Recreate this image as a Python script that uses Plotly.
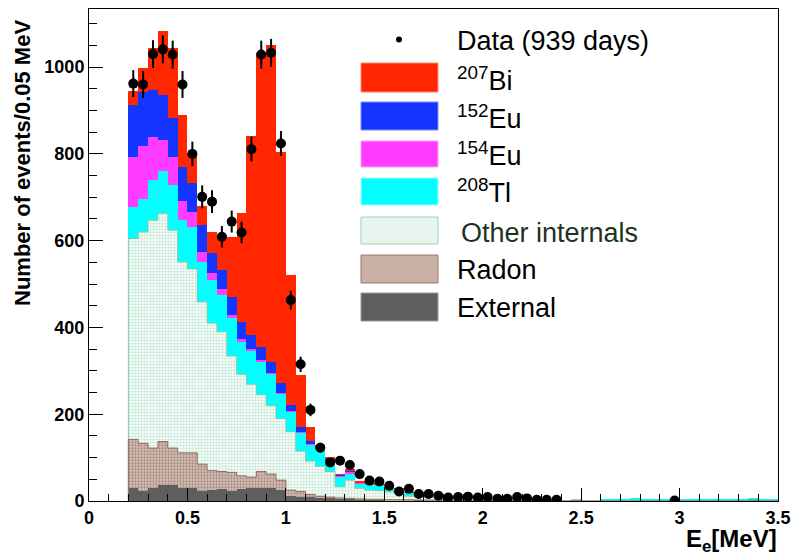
import numpy as np
import plotly.graph_objects as go

# ---------------- data (bins of 0.05 MeV from 0.2 to 3.5 MeV) ----------------
bin_low = 0.2
bin_width = 0.05

external = [30, 23, 31, 37, 37, 30, 29, 24, 26, 27, 23, 27, 30, 31, 30, 26, 12, 10, 9, 8, 7, 5,
            5, 4, 3, 3, 2, 2, 2, 2, 1, 1, 1, 1, 1, 1, 1, 0, 0, 0, 0, 0, 0, 0,
            0, 0, 0, 0, 0, 0, 0, 0, 0, 0, 0, 0, 0, 0, 0, 0, 0, 0, 0, 0, 0, 0]
radon = [112, 110, 91, 100, 85, 81, 82, 61, 44, 41, 43, 31, 25, 37, 32, 22, 13, 12, 6, 3, 2, 2,
         1, 1, 1, 1, 1, 1, 1, 0, 1, 1, 1, 0, 0, 0, 0, 1, 1, 1, 1, 1, 1, 1,
         0, 2, 0, 0, 0, 0, 0, 0, 0, 0, 0, 0, 0, 0, 0, 0, 0, 0, 0, 2, 0, 0]
other_internals = [463, 487, 525, 526, 502, 440, 424, 374, 340, 322, 268, 234, 214, 177, 158, 142, 135, 93, 77, 69, 59, 26,
                   42, 24, 21, 20, 18, 17, 8, 8, 6, 5, 4, 4, 4, 3, 3, 2, 2, 2, 1, 1, 1, 1,
                   0, 0, 0, 0, 0, 0, 0, 2, 0, 0, 0, 0, 0, 0, 0, 0, 0, 0, 0, 0, 0, 0]
tl208 = [72, 75, 93, 98, 104, 96, 96, 92, 99, 85, 87, 75, 77, 76, 73, 58, 46, 42, 39, 41, 27, 24,
         16, 12, 15, 14, 8, 8, 8, 8, 5, 5, 4, 4, 3, 3, 3, 3, 3, 2, 3, 2, 2, 1,
         0, 0, 0, 0, 4, 4, 4, 4, 4, 4, 4, 4, 4, 4, 4, 4, 4, 4, 4, 4, 4, 4]
eu154 = [115, 123, 98, 72, 65, 45, 36, 23, 16, 13, 8, 6, 4, 4, 2, 2, 1, 1, 1, 1, 1, 1,
         4, 1, 0, 1, 1, 0, 0, 0, 0, 0, 0, 0, 0, 0, 0, 0, 0, 0, 0, 0, 0, 0,
         0, 0, 0, 0, 0, 0, 0, 0, 0, 0, 0, 0, 0, 0, 0, 0, 0, 0, 0, 0, 0, 0]
eu152 = [120, 124, 109, 102, 89, 78, 65, 62, 46, 44, 42, 40, 32, 31, 26, 21, 14, 13, 7, 3, 2, 2,
         2, 1, 0, 0, 0, 0, 0, 0, 0, 0, 0, 0, 0, 0, 0, 0, 0, 0, 0, 0, 0, 0,
         0, 0, 0, 0, 0, 0, 0, 0, 0, 0, 0, 0, 0, 0, 0, 0, 0, 0, 0, 0, 0, 0]
bi207 = [33, 55, 96, 149, 163, 119, 69, 44, 49, 81, 137, 251, 459, 676, 730, 534, 299, 119, 32, 4, 2, 1,
         2, 1, 1, 1, 1, 1, 1, 1, 1, 1, 1, 1, 1, 1, 0, 1, 0, 1, 0, 1, 0, 1,
         0, 0, 0, 0, 0, 0, 0, 0, 0, 0, 0, 0, 0, 0, 0, 0, 0, 0, 0, 0, 0, 0]
data_counts = [962, 960, 1030, 1041, 1029, 960, 800, 701, 690, 609, 644, 619, 811, 1029, 1033, 824, 463, 315, 210, 123, 89, 93,
               83, 62, 47, 45, 35, 22, 28, 16, 16, 12, 8, 9, 10, 8, 9, 5, 5, 9, 6, 3, 3, 3,
               0, 0, 0, 0, 0, 0, 0, 0, 0, 0, 0, 1, 0, 0, 0, 0, 0, 0, 0, 0, 0, 0]

x_ticks = [0, 0.5, 1, 1.5, 2, 2.5, 3, 3.5]
x_tick_labels = ["0", "0.5", "1", "1.5", "2", "2.5", "3", "3.5"]
y_ticks = [0, 200, 400, 600, 800, 1000]
y_tick_labels = ["0", "200", "400", "600", "800", "1000"]

# ---------------- derived ----------------
n_bins = len(external)
edges = bin_low + bin_width * np.arange(n_bins + 1)
centers = edges[:-1] + bin_width / 2

# ---------------- figure ----------------
W, H = 794, 556
L, R, T, B = 89, 16, 9, 55
PW, PH = W - L - R, H - T - B


def px(x):
    return (x - L) / PW


def py(y):
    return (H - B - y) / PH


fig = go.Figure()

components = [
    ("External", external, dict(color="#5e5e5e")),
    ("Radon", radon, dict(color="#d2bcb1",
                          pattern=dict(shape=".", bgcolor="#d6c1b7", fgcolor="#7a5a4e",
                                       size=3, solidity=0.45, fillmode="overlay"))),
    ("Other internals", other_internals, dict(color="#f4fbf7",
                                              pattern=dict(shape=".", bgcolor="#f6fcf9", fgcolor="#86cbab",
                                                           size=3, solidity=0.4, fillmode="overlay"))),
    ("208Tl", tl208, dict(color="#00ffff")),
    ("154Eu", eu154, dict(color="#ff3cff")),
    ("152Eu", eu152, dict(color="#1434ff")),
    ("207Bi", bi207, dict(color="#ff2600")),
]
for name, vals, mk in components:
    mk = dict(mk)
    mk["line"] = dict(width=0)
    fig.add_trace(go.Bar(x=centers, y=vals, width=bin_width, name=name, marker=mk,
                         showlegend=False))

# outlines of the patterned histograms
cum_ext = np.array(external, float)
cum_rad = cum_ext + np.array(radon, float)
cum_oi = cum_rad + np.array(other_internals, float)
for top, col in [(cum_oi, "#86caa9"), (cum_rad, "#9a6a5a")]:
    xs = np.concatenate([[edges[0]], edges])
    ys = np.concatenate([[0.0], top, [top[-1]]])
    fig.add_trace(go.Scatter(x=xs, y=ys, mode="lines", line=dict(color=col, width=1, shape="hv"),
                             showlegend=False, hoverinfo="skip"))

# data points
dc = np.array(data_counts, float)
mask = dc > 0
fig.add_trace(go.Scatter(x=centers[mask], y=dc[mask], mode="markers",
                         marker=dict(color="black", size=10),
                         error_y=dict(type="data", array=np.sqrt(dc[mask]), color="black",
                                      thickness=2, width=0),
                         showlegend=False))

tickfont = dict(family="Liberation Sans, Arial", size=18, color="black", weight="bold")

fig.update_layout(
    width=W, height=H, margin=dict(l=L, r=R, t=T, b=B, autoexpand=False),
    paper_bgcolor="white", plot_bgcolor="white",
    barmode="stack", bargap=0,
    xaxis=dict(range=[0, 3.5], tickvals=x_ticks, ticktext=x_tick_labels, ticks="inside", ticklen=13,
               tickcolor="black", showline=True, linecolor="black", linewidth=1, mirror=True,
               showgrid=False, zeroline=False, tickfont=tickfont, automargin=False,
               minor=dict(dtick=0.1, tick0=0, ticks="inside", ticklen=7, tickcolor="black")),
    yaxis=dict(range=[0, 1134], tickvals=y_ticks, ticktext=y_tick_labels, ticks="inside", ticklen=14,
               tickcolor="black", showline=True, linecolor="black", linewidth=1, mirror=True,
               showgrid=False, zeroline=False, tickfont=tickfont, automargin=False,
               minor=dict(dtick=50, tick0=0, ticks="inside", ticklen=8, tickcolor="black")),
)

annotations = [
    dict(text="Number of events/0.05 MeV", textangle=-90, x=px(22), y=py(163),
         xanchor="center", yanchor="middle",
         font=dict(family="Liberation Sans, Arial", size=22, color="black", weight="bold")),
    dict(text="E<sub>e</sub>[MeV]", x=px(779), y=py(540), xanchor="right", yanchor="middle",
         font=dict(family="Liberation Sans, Arial", size=24, color="black", weight="bold")),
]

# legend (manual, ROOT style)
legend_rows = [
    ("<sup>207</sup>Bi", "#ff2600", "#ff8a70", 63, 92, 79, "black"),
    ("<sup>152</sup>Eu", "#1434ff", "#7a8cff", 102, 130, 117, "black"),
    ("<sup>154</sup>Eu", "#ff3cff", "#ff9cff", 141, 167, 154, "black"),
    ("<sup>208</sup>Tl", "#00ffff", "#9affff", 178, 205, 191, "black"),
    ("Other internals", "#e8f5ee", "#9ad4bc", 217, 244, 233, "#1c3320"),
    ("Radon", "#c9b1a6", "#a07565", 255, 283, 270, "black"),
    ("External", "#5e5e5e", "#9a9a9a", 293, 321, 308, "black"),
]
shapes = []
for text, fill, line, y0, y1, ty, tcol in legend_rows:
    shapes.append(dict(type="rect", xref="paper", yref="paper", x0=px(361), x1=px(438),
                       y0=py(y1), y1=py(y0), fillcolor=fill, line=dict(color=line, width=1)))
    annotations.append(dict(text=text, x=px(455 if tcol == "black" else 459), y=py(ty),
                            xanchor="left", yanchor="middle", showarrow=False,
                            font=dict(family="Liberation Sans, Arial", size=27, color=tcol)))
shapes.append(dict(type="circle", xref="paper", yref="paper", x0=px(396), x1=px(402),
                   y0=py(42.5), y1=py(36.5), fillcolor="black", line=dict(color="black", width=0)))
annotations.append(dict(text="Data (939 days)", x=px(455), y=py(41), xanchor="left", yanchor="middle",
                        font=dict(family="Liberation Sans, Arial", size=27, color="black")))

for a in annotations:
    a.setdefault("showarrow", False)
    a["xref"] = "paper"
    a["yref"] = "paper"

fig.update_layout(annotations=annotations, shapes=shapes)
fig.write_html("out.html", config={"displayModeBar": False},
               post_script="document.body.style.margin='0';document.body.style.overflow='hidden';")
